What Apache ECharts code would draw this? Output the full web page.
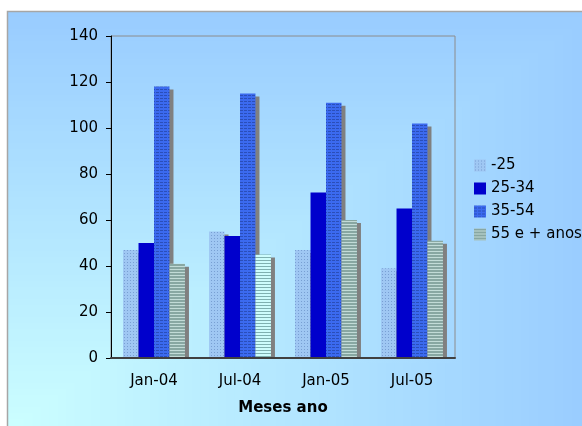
<!DOCTYPE html>
<html>
<head>
<meta charset="utf-8">
<script src="https://cdn.jsdelivr.net/npm/echarts@6/dist/echarts.min.js"></script>
<style>
  html, body { margin: 0; padding: 0; background: #ffffff; }
  #chart { width: 582px; height: 426px; }
</style>
</head>
<body>
<div id="chart"></div>
<script>
// Months on the category axis
const categories = ['Jan-04', 'Jul-04', 'Jan-05', 'Jul-05'];
// Age groups
const seriesNames = ['-25', '25-34', '35-54', '55 e + anos'];
// Values per age group
const under25 = [47, 55, 47, 39];
const age25to34 = [50, 53, 72, 65];
const age35to54 = [118, 115, 111, 102];
const age55plus = [41, 45, 60, 51];
// Value axis ticks
const yTicks = [0, 20, 40, 60, 80, 100, 120, 140];

// Small tiled fills for the hatched bars
function makePattern(w, h, draw) {
  const c = document.createElement('canvas');
  c.width = w; c.height = h;
  const ctx = c.getContext('2d');
  draw(ctx);
  return { image: c, repeat: 'repeat' };
}
const dotFill = makePattern(3, 3, ctx => {
  ctx.fillStyle = '#9fc7f3'; ctx.fillRect(0, 0, 3, 3);
  ctx.fillStyle = '#789fd3'; ctx.fillRect(1, 1, 1, 1);
});
const blueStripeFill = makePattern(4, 3, ctx => {
  ctx.fillStyle = '#3b6aef'; ctx.fillRect(0, 0, 4, 3);
  ctx.fillStyle = '#2a4eb9'; ctx.fillRect(0, 2, 3, 1);
});
const grayStripeFill = makePattern(3, 3, ctx => {
  ctx.fillStyle = '#88a7a2'; ctx.fillRect(0, 0, 3, 3);
  ctx.fillStyle = '#c2dbd7'; ctx.fillRect(0, 2, 3, 1);
});
const lightStripeFill = makePattern(3, 3, ctx => {
  ctx.fillStyle = '#cdfcfc'; ctx.fillRect(0, 0, 3, 3);
  ctx.fillStyle = '#7fb0b0'; ctx.fillRect(0, 2, 3, 1);
});

// Corner gradient of the chart area, built as nested rectangles
const areaX = 7, areaY = 11, areaW = 590, areaH = 420;
const c0 = [0x99, 0xcc, 0xff], c1 = [0xcc, 0xff, 0xff];
function bgColor(t) {
  return 'rgb(' + c0.map((v, j) => Math.round(c1[j] + (v - c1[j]) * t)).join(',') + ')';
}
const elements = [];
const N = 70;
for (let i = 0; i < N; i++) {
  const t = 1 - i / N;
  elements.push({
    type: 'rect', silent: true, z: -10,
    shape: { x: areaX, y: areaY + areaH * (1 - t), width: areaW * t, height: areaH * t },
    style: { fill: bgColor(t) }
  });
}
elements.push({
  type: 'rect', silent: true, z: -9,
  shape: { x: areaX + 0.5, y: areaY + 0.5, width: areaW, height: areaH },
  style: { fill: 'none', stroke: '#a6a6a6', lineWidth: 1.5 }
});

// Plot area box
const gridLeft = 111, gridRight = 127, gridTop = 36, gridBottom = 68;
const plotRight = 582 - gridRight, plotBottom = 426 - gridBottom;
// Strip under the category axis: keeps the bar shadows from spilling below it
const tA = (gridLeft - 4 - areaX) / areaW, tB = (plotRight + 6 - areaX) / areaW;
elements.push({
  type: 'rect', silent: true, z: 3,
  shape: { x: gridLeft - 4, y: plotBottom + 1, width: plotRight - gridLeft + 10, height: 4 },
  style: {
    fill: new echarts.graphic.LinearGradient(0, 0, 1, 0, [
      { offset: 0, color: bgColor(tA) }, { offset: 1, color: bgColor(tB) }
    ])
  }
});

const font = 'DejaVu Sans';
const shadow = { shadowColor: '#808080', shadowBlur: 0, shadowOffsetX: 4, shadowOffsetY: 3 };

const chart = echarts.init(document.getElementById('chart'), null, { renderer: 'canvas' });
chart.setOption({
  animation: false,
  textStyle: { fontFamily: font },
  graphic: { elements: elements },
  grid: {
    left: gridLeft, right: gridRight, top: gridTop, bottom: gridBottom,
    show: true, borderColor: '#8c8c8c', borderWidth: 1, backgroundColor: 'transparent'
  },
  legend: {
    orient: 'vertical', left: 469, top: 153,
    icon: 'rect', itemWidth: 12, itemHeight: 12, itemGap: 8,
    textStyle: { fontFamily: font, fontSize: 15, color: '#000' },
    data: seriesNames
  },
  xAxis: {
    type: 'category', data: categories, z: 5,
    axisLine: { lineStyle: { color: '#404040', width: 2 } },
    axisTick: { length: 5, lineStyle: { color: '#000' } },
    axisLabel: { fontFamily: font, fontSize: 15, color: '#000', margin: 16 },
    name: 'Meses ano', nameLocation: 'middle', nameGap: 43,
    nameTextStyle: { fontFamily: font, fontSize: 15, fontWeight: 'bold', color: '#000' }
  },
  yAxis: {
    type: 'value', min: yTicks[0], max: yTicks[yTicks.length - 1], interval: yTicks[1] - yTicks[0],
    axisLine: { show: true, lineStyle: { color: '#000', width: 1 } },
    axisTick: { show: true, length: 5, lineStyle: { color: '#000' } },
    splitLine: { show: false },
    axisLabel: { fontFamily: font, fontSize: 15, color: '#000', margin: 13 }
  },
  series: [
    { name: seriesNames[0], type: 'bar', data: under25, barGap: '0%', barCategoryGap: '28%',
      itemStyle: Object.assign({ color: dotFill }, shadow) },
    { name: seriesNames[1], type: 'bar', data: age25to34,
      itemStyle: Object.assign({ color: '#0000cc' }, shadow) },
    { name: seriesNames[2], type: 'bar', data: age35to54,
      itemStyle: Object.assign({ color: blueStripeFill }, shadow) },
    { name: seriesNames[3], type: 'bar',
      data: age55plus.map((v, i) => i === 1 ? { value: v, itemStyle: { color: lightStripeFill } } : v),
      itemStyle: Object.assign({ color: grayStripeFill }, shadow) }
  ]
});
</script>
</body>
</html>
